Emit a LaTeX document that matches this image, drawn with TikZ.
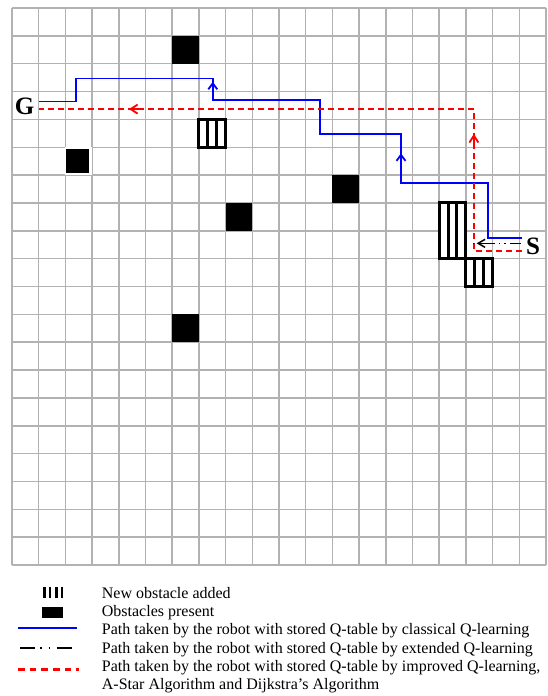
\documentclass[tikz,border=0pt]{standalone}
\usepackage{fontspec}
\setmainfont{Liberation Serif}
\usepackage{xcolor}
\definecolor{gridcolor}{HTML}{B2B2B2}
\definecolor{classiccolor}{HTML}{0000FF}
\definecolor{improvedcolor}{HTML}{FF0000}
\definecolor{extendedcolor}{HTML}{000000}
\usetikzlibrary{positioning,arrows.meta}
\tikzset{
    gridline/.style={
        draw=gridcolor,
        line width=1.5pt,
    },
    obstacle/.style={
        fill=black,
    },
    newobstacle/.style={
        draw=black,
        fill=white,
        line width=3pt,
    },
    stripe/.style={
        draw=black,
        line width=3pt,
    },
    classicpath/.style={
        classiccolor,
        line width=1.8pt,
    },
    improvedpath/.style={
        improvedcolor,
        line width=1.8pt,
        dash pattern=on 6pt off 4pt,
    },
    extendedpath/.style={
        extendedcolor,
        line width=1.5pt,
        dash pattern=on 11pt off 4pt on 1.5pt off 4pt on 1.5pt off 4pt,
    },
    classictip/.style={
        classiccolor,
        line width=1.8pt,
        -{Straight Barb[length=6pt,width=9pt]},
    },
    improvedtip/.style={
        improvedcolor,
        line width=1.8pt,
        -{Straight Barb[length=7pt,width=9pt]},
    },
    extendedtip/.style={
        extendedcolor,
        line width=1.5pt,
        -{Straight Barb[length=7pt,width=8pt]},
    },
    endlabel/.style={
        font=\fontsize{25}{25}\selectfont\bfseries,
        inner sep=0pt,
    },
    legendtext/.style={
        font=\fontsize{16}{18.2}\selectfont,
        anchor=base west,
        inner sep=0pt,
        align=left,
    },
}
% striped box for a newly added obstacle: column, row, height in cells
\newcommand{\stripedbox}[3]{
    \draw[newobstacle] (#1,#2) rectangle ++(1,#3);
    \draw[stripe] (#1+1/3,#2) -- ++(0,#3);
    \draw[stripe] (#1+2/3,#2) -- ++(0,#3);
}

\begin{document}
\begin{tikzpicture}[x=26.7pt, y=-27.85pt]
    \useasboundingbox (-0.4494,-0.2873) rectangle (20.075,24.704);

    % 20 x 20 grid
    \foreach \i in {0,...,20} {
        \draw[gridline] (\i,0) -- (\i,20);
        \draw[gridline] (0,\i) -- (20,\i);
    }

    % Obstacles present
    \foreach \c/\r in {6/1, 12/6, 8/7, 6/11} {
        \fill[obstacle] (\c,\r) rectangle ++(1,1);
    }
    \fill[white] (2,5) rectangle ++(1,1);
    \fill[obstacle] (2.03,5.07) rectangle (2.88,5.93);

    % New obstacles added
    \stripedbox{7}{4}{1}
    \stripedbox{16}{7}{2}
    \stripedbox{17}{9}{1}

    % Goal and start
    \node[endlabel] (goal) at (0.476,3.52) {G};
    \node[endlabel] (start) at (19.52,8.55) {S};

    % Classical Q-learning path
    \draw[classicpath] (1.0,3.36) -- (2.4,3.36) -- (2.4,2.53) -- (7.52,2.53)
        -- (7.52,3.30) -- (11.54,3.30) -- (11.54,4.52) -- (14.57,4.52)
        -- (14.57,6.29) -- (17.84,6.29) -- (17.84,8.27) -- (19.09,8.27);
    \draw[classictip] (7.52,3.0) -- (7.52,2.65);
    \draw[classictip] (14.57,5.6) -- (14.57,5.22);

    % Improved Q-learning, A-Star and Dijkstra path
    \draw[improvedpath] (19.09,8.73) -- (17.3,8.73) -- (17.3,3.63) -- (1.0,3.63);
    \draw[improvedtip] (17.3,4.9) -- (17.3,4.52);
    \draw[improvedtip] (4.75,3.63) -- (4.38,3.63);

    % Extended Q-learning path
    \draw[extendedpath] (19.05,8.45) -- (17.13,8.45);
    \draw[extendedtip] (17.75,8.45) -- (17.4,8.45);

    % Legend (image pixel units)
    \begin{scope}[x=1pt, y=-1pt, shift={(-12,-8)}]
        \fill[black] (43.3,586.7) rectangle (45.8,597.7);
        \fill[black] (48.8,586.7) rectangle (51.3,597.7);
        \fill[black] (54.6,586.7) rectangle (57.6,597.7);
        \fill[black] (60.8,586.7) rectangle (63.3,597.7);
        \fill[obstacle] (41.7,606.7) rectangle (62.7,618.3);
        \draw[classicpath] (18.3,628.3) -- (77.3,628.3);
        \draw[extendedcolor, line width=2pt,
            dash pattern=on 15pt off 5.5pt on 1.2pt off 7pt on 1.2pt off 7pt]
            (20,647.7) -- (72.7,647.7);
        \draw[improvedcolor, line width=2.5pt, dash pattern=on 6.7pt off 5pt]
            (18,669.3) -- (79,669.3);

        \node[legendtext] (legnew) at (101.7,598.3) {New obstacle added};
        \node[legendtext] (legobs) at (101.7,616.6) {Obstacles present};
        \node[legendtext] (legclassic) at (101.7,634.9)
            {Path taken by the robot with stored Q-table by classical Q-learning};
        \node[legendtext] (legextended) at (101.7,653.2)
            {Path taken by the robot with stored Q-table by extended Q-learning};
        \node[legendtext] (legimproved) at (101.7,689.7)
            {Path taken by the robot with stored Q-table by improved Q-learning,\\
             A-Star Algorithm and Dijkstra’s Algorithm};
    \end{scope}
\end{tikzpicture}
\end{document}
